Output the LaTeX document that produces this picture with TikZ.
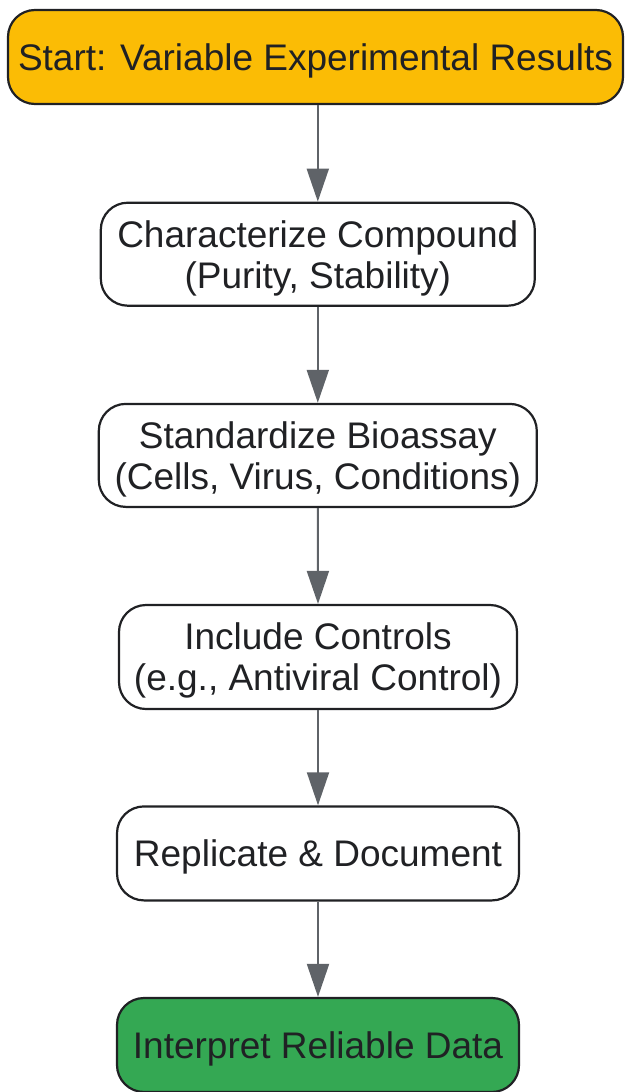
\documentclass[tikz,border=0pt]{standalone}
\usepackage{fontspec}
\setmainfont{Liberation Sans}
\usetikzlibrary{arrows.meta}
\definecolor{startfill}{HTML}{FBBC05}
\definecolor{endfill}{HTML}{34A853}
\definecolor{edgecol}{HTML}{202124}
\definecolor{textcol}{HTML}{202124}
\definecolor{arrcol}{HTML}{5F6368}
\tikzset{
  box/.style={draw=edgecol, line width=2.2pt, rounded corners=27pt, fill=white,
    text=textcol, align=center, inner sep=0pt, text depth=0pt,
    font=\fontsize{37pt}{41pt}\selectfont},
  flow/.style={draw=arrcol, line width=2pt, -{Triangle[length=33pt,width=22pt]}}
}
\begin{document}
\begin{tikzpicture}[x=1pt,y=-1pt]
\useasboundingbox (0,0) rectangle (625,1092);
\node[box, fill=startfill, minimum width=615pt, minimum height=94pt] (n1) at (315.5,57) {Start: Variable Experimental Results};
\node[box, minimum width=434pt, minimum height=103pt] (n2) at (317.8,254.2) {Characterize Compound\\(Purity, Stability)};
\node[box, minimum width=438pt, minimum height=103pt] (n3) at (317.8,455.4) {Standardize Bioassay\\(Cells, Virus, Conditions)};
\node[box, minimum width=398pt, minimum height=104pt] (n4) at (318,657) {Include Controls\\(e.g., Antiviral Control)};
\node[box, minimum width=402pt, minimum height=94pt] (n5) at (318,853.4) {Replicate \& Document};
\node[box, fill=endfill, minimum width=402pt, minimum height=94pt] (n6) at (318,1045) {Interpret Reliable Data};
\draw[flow] (n1.south -| n2.north) -- (n2.north);
\draw[flow] (n2.south) -- (n3.north);
\draw[flow] (n3.south) -- (n4.north);
\draw[flow] (n4.south) -- (n5.north);
\draw[flow] (n5.south) -- (n6.north);
\end{tikzpicture}
\end{document}
